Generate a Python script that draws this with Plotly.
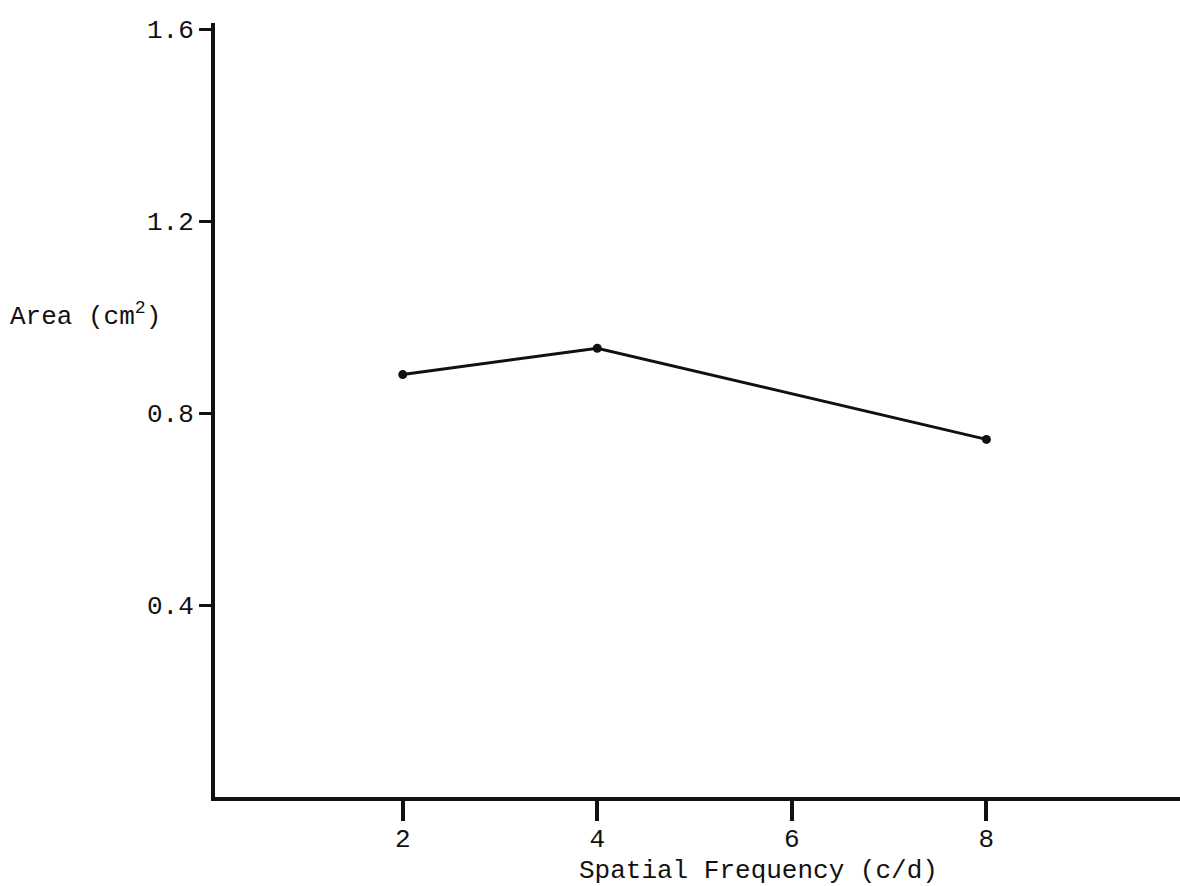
import plotly.graph_objects as go

# Mean area versus spatial frequency
spatial_freq = [2, 4, 8]
area_cm2 = [0.88, 0.935, 0.745]

x_ticks = [2, 4, 6, 8]
x_tick_labels = ["2", "4", "6", "8"]
y_ticks = [0.4, 0.8, 1.2, 1.6]
y_tick_labels = ["0.4", "0.8", "1.2", "1.6"]

TYPE_FONT = dict(family="Liberation Mono, DejaVu Sans Mono, monospace", size=26, color="#111111")

fig = go.Figure()
fig.add_trace(go.Scatter(
    x=spatial_freq, y=area_cm2,
    mode="lines+markers",
    line=dict(color="#111111", width=3),
    marker=dict(color="#111111", size=9),
    showlegend=False,
    hoverinfo="skip",
))

fig.update_layout(
    width=1180, height=886,
    margin=dict(l=215, r=0, t=23, b=89),
    paper_bgcolor="white", plot_bgcolor="white",
    font=TYPE_FONT,
    xaxis=dict(
        range=[0.07, 9.99],
        tickmode="array", tickvals=x_ticks, ticktext=x_tick_labels,
        ticks="outside", ticklen=20, tickwidth=4, tickcolor="#111111",
        ticklabelstandoff=-5,
        showline=True, linewidth=4, linecolor="#111111",
        showgrid=False, zeroline=False,
        tickfont=TYPE_FONT,
    ),
    yaxis=dict(
        range=[0, 1.6125],
        tickmode="array", tickvals=y_ticks, ticktext=y_tick_labels,
        ticks="outside", ticklen=12, tickwidth=3, tickcolor="#111111",
        showline=True, linewidth=4, linecolor="#111111",
        showgrid=False, zeroline=False,
        tickfont=TYPE_FONT,
    ),
    annotations=[
        dict(text="Spatial Frequency (c/d)", xref="paper", yref="paper",
             x=0.563, y=-0.096, xanchor="center", yanchor="middle",
             showarrow=False, font=TYPE_FONT),
        dict(text="Area (cm<sup>2</sup>)", xref="paper", yref="paper",
             x=-0.2145, y=0.623, xanchor="left", yanchor="middle",
             showarrow=False, font=TYPE_FONT),
    ],
)

fig.write_html("out.html")
